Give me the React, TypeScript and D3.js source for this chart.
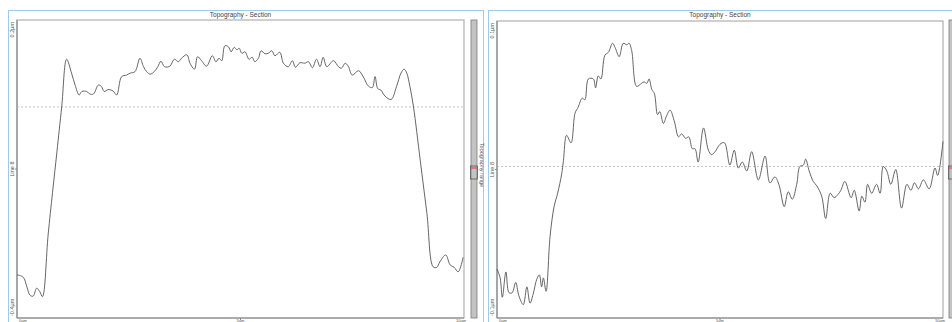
import React from "react";
import * as d3 from "d3";

// Left profile: x in µm, height in nm
const leftX = [0, 0.14, 0.22, 0.29, 0.36, 0.44, 0.51, 0.57, 0.7, 0.89, 1.0, 1.11, 1.22, 1.3, 1.39, 1.45, 1.56, 1.63, 1.71, 1.82, 1.89, 1.95, 2.04, 2.15, 2.23, 2.34, 2.45, 2.53, 2.64, 2.75, 2.83, 2.9, 2.98, 3.07, 3.15, 3.22, 3.3, 3.42, 3.52, 3.61, 3.68, 3.8, 3.87, 3.97, 4.04, 4.13, 4.24, 4.37, 4.45, 4.52, 4.58, 4.65, 4.73, 4.79, 4.86, 4.92, 4.97, 5.03, 5.1, 5.19, 5.26, 5.32, 5.4, 5.46, 5.55, 5.62, 5.7, 5.77, 5.88, 5.96, 6.07, 6.16, 6.23, 6.33, 6.44, 6.52, 6.61, 6.7, 6.78, 6.85, 6.93, 7.08, 7.19, 7.26, 7.34, 7.41, 7.5, 7.64, 7.75, 7.86, 7.95, 8.01, 8.07, 8.14, 8.23, 8.37, 8.49, 8.59, 8.66, 8.72, 8.79, 8.87, 9.02, 9.17, 9.31, 9.39, 9.46, 9.59, 9.69, 9.78, 9.87, 9.98];
const leftY = [-313, -318, -337, -354, -356, -340, -347, -357, -229, -68, 25, 121, 93, 69, 49, 56, 56, 51, 51, 69, 66, 56, 60, 57, 49, 86, 89, 93, 96, 123, 106, 96, 91, 96, 106, 117, 106, 107, 121, 116, 123, 130, 113, 101, 126, 118, 107, 128, 116, 123, 118, 148, 146, 136, 145, 140, 143, 133, 136, 121, 125, 116, 123, 138, 132, 133, 138, 128, 135, 113, 106, 118, 105, 114, 113, 116, 104, 121, 106, 125, 106, 118, 106, 103, 113, 107, 89, 98, 85, 67, 64, 86, 62, 59, 47, 40, 66, 93, 101, 93, 66, 25, -82, -189, -297, -298, -287, -273, -293, -298, -307, -278];

// Right profile: x in µm, height in nm
const rightX = [0, 0.07, 0.12, 0.2, 0.27, 0.34, 0.42, 0.49, 0.59, 0.67, 0.74, 0.81, 0.89, 0.95, 1.0, 1.04, 1.1, 1.19, 1.28, 1.36, 1.45, 1.49, 1.56, 1.66, 1.75, 1.82, 1.91, 1.97, 2.05, 2.16, 2.21, 2.27, 2.33, 2.42, 2.5, 2.59, 2.65, 2.74, 2.83, 2.91, 2.96, 3.02, 3.13, 3.24, 3.3, 3.36, 3.41, 3.47, 3.53, 3.6, 3.65, 3.73, 3.8, 3.88, 3.98, 4.07, 4.14, 4.23, 4.3, 4.38, 4.44, 4.51, 4.63, 4.74, 4.81, 4.89, 5.0, 5.1, 5.22, 5.32, 5.41, 5.5, 5.6, 5.71, 5.86, 6.01, 6.12, 6.23, 6.32, 6.44, 6.53, 6.62, 6.72, 6.79, 6.87, 6.92, 7.0, 7.09, 7.17, 7.28, 7.37, 7.47, 7.56, 7.64, 7.71, 7.8, 7.94, 8.01, 8.12, 8.18, 8.25, 8.31, 8.4, 8.51, 8.59, 8.66, 8.74, 8.83, 8.94, 9.07, 9.19, 9.28, 9.36, 9.45, 9.56, 9.69, 9.82, 9.88, 10.0];
const rightY = [-67, -73, -86, -69, -83, -83, -76, -85, -91, -79, -90, -84, -74, -71, -79, -73, -82, -45, -25, -16, -3, 6, 23, 18, 38, 42, 48, 47, 61, 61, 55, 63, 61, 77, 79, 85, 82, 76, 85, 84, 85, 80, 56, 58, 59, 58, 61, 54, 51, 37, 39, 31, 36, 40, 32, 22, 24, 21, 22, 14, 14, 5, 28, 13, 10, 12, 17, 18, 3, 13, 1, 5, -1, 12, -7, 9, -9, -5, -10, -25, -15, -20, -10, 2, 3, 7, -1, -8, -11, -18, -33, -16, -19, -17, -14, -8, -19, -14, -28, -18, -22, -10, -16, -10, -16, 2, -1, -10, 0, -26, -10, -14, -9, -13, -7, -13, 1, -4, 19];

const leftYDomain = [-400, 200];
const rightYDomain = [-100, 100];
const leftYLabels = ["0.2µm", "Line 8", "-0.4µm"];
const rightYLabels = ["0.1µm", "Line 8", "-0.1µm"];
const xTickLabels = ["0µm", "5µm", "10µm"];
const xTickValues = [0, 5, 10];
const leftMean = 25;
const rightMean = 2;
const titleText = "Topography - Section";
const rangeLabel = "Topography range";

const FONT = "'Liberation Sans', Arial, sans-serif";
const BLUE = "#9ccbf0";

type PanelProps = {
  px0: number; px1: number; py0: number; py1: number;
  xs: number[]; ys: number[]; yDomain: number[]; yLabels: string[]; mean: number;
  frameX: number; frameW: number;
};

function Panel({ px0, px1, py0, py1, xs, ys, yDomain, yLabels, mean, frameX, frameW }: PanelProps) {
  const x = d3.scaleLinear().domain([0, 10]).range([px0, px1]);
  const y = d3.scaleLinear().domain(yDomain).range([py1, py0]);
  const pts: [number, number][] = xs.map((v, i) => [v, ys[i]]);
  const line = d3.line<[number, number]>()
    .x(d => x(d[0]))
    .y(d => y(d[1]))
    .curve(d3.curveCatmullRom.alpha(0.5));
  const labelX = px0 - 5;
  const midY = (py0 + py1) / 2;
  return (
    <g>
      <line x1={frameX} y1={10.5} x2={frameX + frameW} y2={10.5} stroke={BLUE} strokeWidth={1} />
      <line x1={frameX + 0.5} y1={10} x2={frameX + 0.5} y2={322} stroke={BLUE} strokeWidth={1} />
      <text x={(px0 + px1) / 2} y={17} fontSize={6.5} fontFamily={FONT} fill="#444" textAnchor="middle">{titleText}</text>
      <rect x={px0} y={py0} width={px1 - px0} height={py1 - py0} fill="#fff" stroke="#b0b0b0" strokeWidth={1.2} />
      <line x1={px0} y1={py0} x2={px0} y2={py1} stroke="#8a8a8a" strokeWidth={1.2} />
      <line x1={px0} y1={py1} x2={px1} y2={py1} stroke="#8a8a8a" strokeWidth={1.2} />
      <line x1={px0} y1={y(mean)} x2={px1} y2={y(mean)} stroke="#b5b5b5" strokeWidth={0.8} strokeDasharray="2,2" />
      <line x1={px0 - 2} y1={midY} x2={px0} y2={midY} stroke="#888" strokeWidth={1} />
      {xTickValues.map((v, i) => (
        <g key={i}>
          {i === 1 && <line x1={x(v)} y1={py1} x2={x(v)} y2={py1 + 2} stroke="#888" />}
          <text x={i === 0 ? x(v) + 2 : i === 2 ? x(v) - 8 : x(v)} y={321.6} fontSize={4} fontFamily={FONT} fill="#555" textAnchor={i === 1 ? "middle" : "start"}>{xTickLabels[i]}</text>
        </g>
      ))}
      <path d={line(pts) || ""} fill="none" stroke="#555" strokeWidth={0.9} />
      <text transform={`translate(${labelX},${py0 + 2}) rotate(-90)`} fontSize={5.5} fontFamily={FONT} fill="#555" textAnchor="end" dy="2">{yLabels[0]}</text>
      <text transform={`translate(${labelX},${midY}) rotate(-90)`} fontSize={5.5} fontFamily={FONT} fill="#555" textAnchor="middle" dy="2">{yLabels[1]}</text>
      <text transform={`translate(${labelX},${py1 - 2}) rotate(-90)`} fontSize={5.5} fontFamily={FONT} fill="#555" textAnchor="start" dy="2">{yLabels[2]}</text>
    </g>
  );
}

function RangeBar({ bx, top, bottom, mark }: { bx: number; top: number; bottom: number; mark: number }) {
  return (
    <g>
      <rect x={bx} y={top} width={6} height={bottom - top} fill="#c3c3c3" stroke="#7a7a7a" strokeWidth={0.8} />
      <line x1={bx} y1={mark} x2={bx + 6} y2={mark} stroke="#e06060" strokeWidth={1.5} />
      <rect x={bx - 0.5} y={mark - 2} width={7} height={13} fill="none" stroke="#333" strokeWidth={0.6} />
    </g>
  );
}

export default function App() {
  return (
    <svg width={952} height={322} style={{ position: "absolute", left: 0, top: 0, background: "#fff" }}>
      <rect x={0} y={0} width={952} height={322} fill="#fff" />
      <Panel px0={17} px1={464} py0={20} py1={318} xs={leftX} ys={leftY} yDomain={leftYDomain} yLabels={leftYLabels} mean={leftMean} frameX={8} frameW={475} />
      <line x1={483.5} y1={10} x2={483.5} y2={322} stroke={BLUE} strokeWidth={1} />
      <RangeBar bx={471} top={20} bottom={318} mark={168} />
      <text transform="translate(480,165) rotate(90)" fontSize={5.5} fontFamily={FONT} fill="#555" textAnchor="middle">{rangeLabel}</text>
      <Panel px0={497} px1={943} py0={21} py1={318} xs={rightX} ys={rightY} yDomain={rightYDomain} yLabels={rightYLabels} mean={rightMean} frameX={488} frameW={464} />
      <RangeBar bx={949} top={20} bottom={318} mark={168} />
    </svg>
  );
}
